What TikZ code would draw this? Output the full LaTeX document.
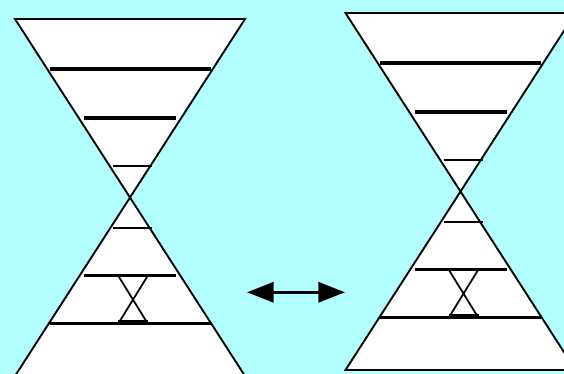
\documentclass[tikz,border=0pt]{standalone}
\usepackage{xcolor}
\usepackage{tikz}
\usetikzlibrary{arrows.meta}

\definecolor{skyback}{RGB}{179,255,255}

\begin{document}
\begin{tikzpicture}[
    x=0.03cm, y=-0.03cm,
    glass/.style={draw, fill=white, line width=1.6pt, line join=miter},
    rung/.style={line width=#1, line cap=butt},
    cross/.style={line width=1.5pt},
    swap/.style={{Triangle[length=0.8cm, width=0.6cm]}-{Triangle[length=0.8cm, width=0.6cm]}, line width=2.8pt}
]
    % background
    \fill[skyback] (0,0) rectangle (564,374);
    \useasboundingbox (0,0) rectangle (564,374);
    \clip (0,0) rectangle (564,374);

    % the two hourglasses, placed by their waist
    \foreach \name/\ax/\ay in {before/130/197.5, after/460.5/191.5} {
      \begin{scope}[shift={(\ax,\ay)}]
        \coordinate (\name-waist) at (0,0);
        \draw[glass] (-115,-178.5) -- (115,-178.5) -- (\name-waist) -- cycle;
        \draw[glass] (\name-waist) -- (115,178.5) -- (-115,178.5) -- cycle;
        % rungs, upper half
        \draw[rung=3.1pt] (-80.5,-128.5) -- (80.5,-128.5);
        \draw[rung=2.9pt] (-46,-79.5) -- (46,-79.5);
        \draw[rung=1.7pt] (-17,-31.7) -- (22,-31.7);
        % rungs, lower half
        \draw[rung=1.7pt] (-17,30.8) -- (22,30.8);
        \draw[rung=2.9pt] (-46,78.3) -- (46,78.3);
        \draw[rung=3.1pt] (-80.5,126) -- (80.5,126);
        % small hourglass between the lower rungs
        \draw[cross] (-11.7,78.3) -- (17.7,126) (17.7,78.3) -- (-11.7,126);
        \draw[rung=3.1pt] (-11.7,124.3) -- (18,124.3);
      \end{scope}
    }

    % the swap arrow
    \coordinate (swap-left) at (247,292.3);
    \coordinate (swap-right) at (345,292.3);
    \draw[swap] (swap-left) -- (swap-right);
\end{tikzpicture}
\end{document}
